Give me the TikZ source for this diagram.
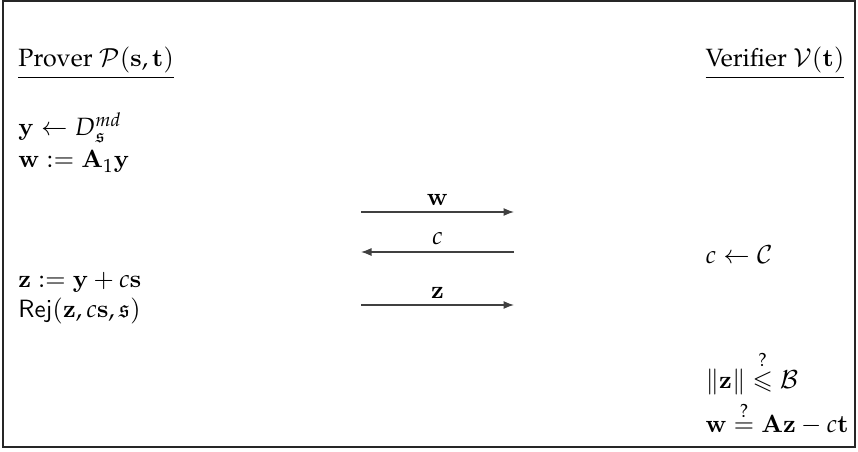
\documentclass[tikz,border=0pt]{standalone}
\usepackage[OT1]{fontenc}
\usepackage{amsmath,amssymb}
\usepackage{mathpazo}
\DeclareMathAlphabet{\mathbf}{OT1}{cmr}{bx}{n}
\usetikzlibrary{arrows.meta}
\tikzset{
  txt/.style={inner sep=0pt, anchor=base west},
  msg/.style={draw=black!75, line width=0.5pt, -{Latex[length=4.2pt,width=3.2pt]}},
  frame/.style={draw=black!85, line width=0.5pt}
}
\begin{document}
\begin{tikzpicture}[x=0.4pt,y=-0.4pt]
\useasboundingbox (0,0) rectangle (858,452);
\draw[frame] (3,1) rectangle (855,447);
% headers
\node[txt] (prover) at (18,67) {\underline{Prover $\mathcal{P}(\mathbf{s},\mathbf{t})$}};
\node[txt] (verifier) at (705,67) {\underline{Verifier $\mathcal{V}(\mathbf{t})$}};
% prover side
\node[txt] (ysamp) at (18,136) {$\mathbf{y}\leftarrow D_{\mathfrak{s}}^{md}$};
\node[txt] (wcomp) at (18,168) {$\mathbf{w} := \mathbf{A}_1\mathbf{y}$};
\node[txt] (zcomp) at (18,287) {$\mathbf{z} := \mathbf{y} + c\mathbf{s}$};
\node[txt] (rej) at (18,317) {$\mathsf{Rej}(\mathbf{z},c\mathbf{s},\mathfrak{s})$};
% verifier side
\node[txt] (csamp) at (705,264) {$c \leftarrow \mathcal{C}$};
\node[txt] (check1) at (705,388) {$\|\mathbf{z}\| \stackrel{?}{\leqslant} \mathcal{B}$};
\node[txt] (check2) at (705,432) {$\mathbf{w} \stackrel{?}{=} \mathbf{A}\mathbf{z} - c\mathbf{t}$};
% messages
\coordinate (w1) at (361,212); \coordinate (w2) at (514,212);
\coordinate (c1) at (514,252); \coordinate (c2) at (361,252);
\coordinate (z1) at (361,305); \coordinate (z2) at (514,305);
\draw[msg] (w1) -- node[above, inner sep=2.5pt] (wlab) {$\mathbf{w}$} (w2);
\draw[msg] (c1) -- node[above, inner sep=2.5pt] (clab) {$c$} (c2);
\draw[msg] (z1) -- node[above, inner sep=2.5pt] (zlab) {$\mathbf{z}$} (z2);
\end{tikzpicture}
\end{document}
